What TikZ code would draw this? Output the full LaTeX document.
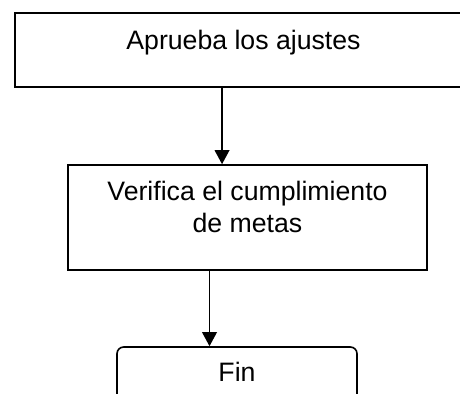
\documentclass[tikz,border=0pt]{standalone}
\usepackage{fontspec}
\setmainfont{Liberation Sans}
\usepackage{tikz}
\usetikzlibrary{arrows.meta, positioning, calc}

\begin{document}
\begin{tikzpicture}[x=0.75pt, y=-0.75pt,
    caja/.style={draw, line width=1.2pt, rectangle, text height=14pt,
        font=\fontsize{20}{24}\selectfont},
    flecha/.style={-{Triangle[length=10.5pt, width=11pt]}, line width=1.1pt}]
    \useasboundingbox (0,0) rectangle (460,393);
    \node[caja, minimum width=342.75pt, minimum height=55.5pt, text depth=15.5pt] (aprueba) at (243.5,50) {Aprueba los ajustes};
    \node[caja, minimum width=269.25pt, minimum height=78.75pt, text depth=40.25pt] (verifica) at (247.5,217.5)
        {\begin{tabular}[t]{@{}c@{}}Verifica el cumplimiento\\de metas\end{tabular}};
    \node[caja, rounded corners=5pt, minimum width=180pt, minimum height=45pt, text depth=8pt] (fin) at (237,377) {Fin};
    \draw[flecha] ([xshift=-16.1pt]aprueba.south) -- ([xshift=-16.1pt]aprueba.south |- verifica.north);
    \draw[flecha] ([xshift=-28.5pt]verifica.south) -- ([xshift=-28.5pt]verifica.south |- fin.north);
\end{tikzpicture}
\end{document}
